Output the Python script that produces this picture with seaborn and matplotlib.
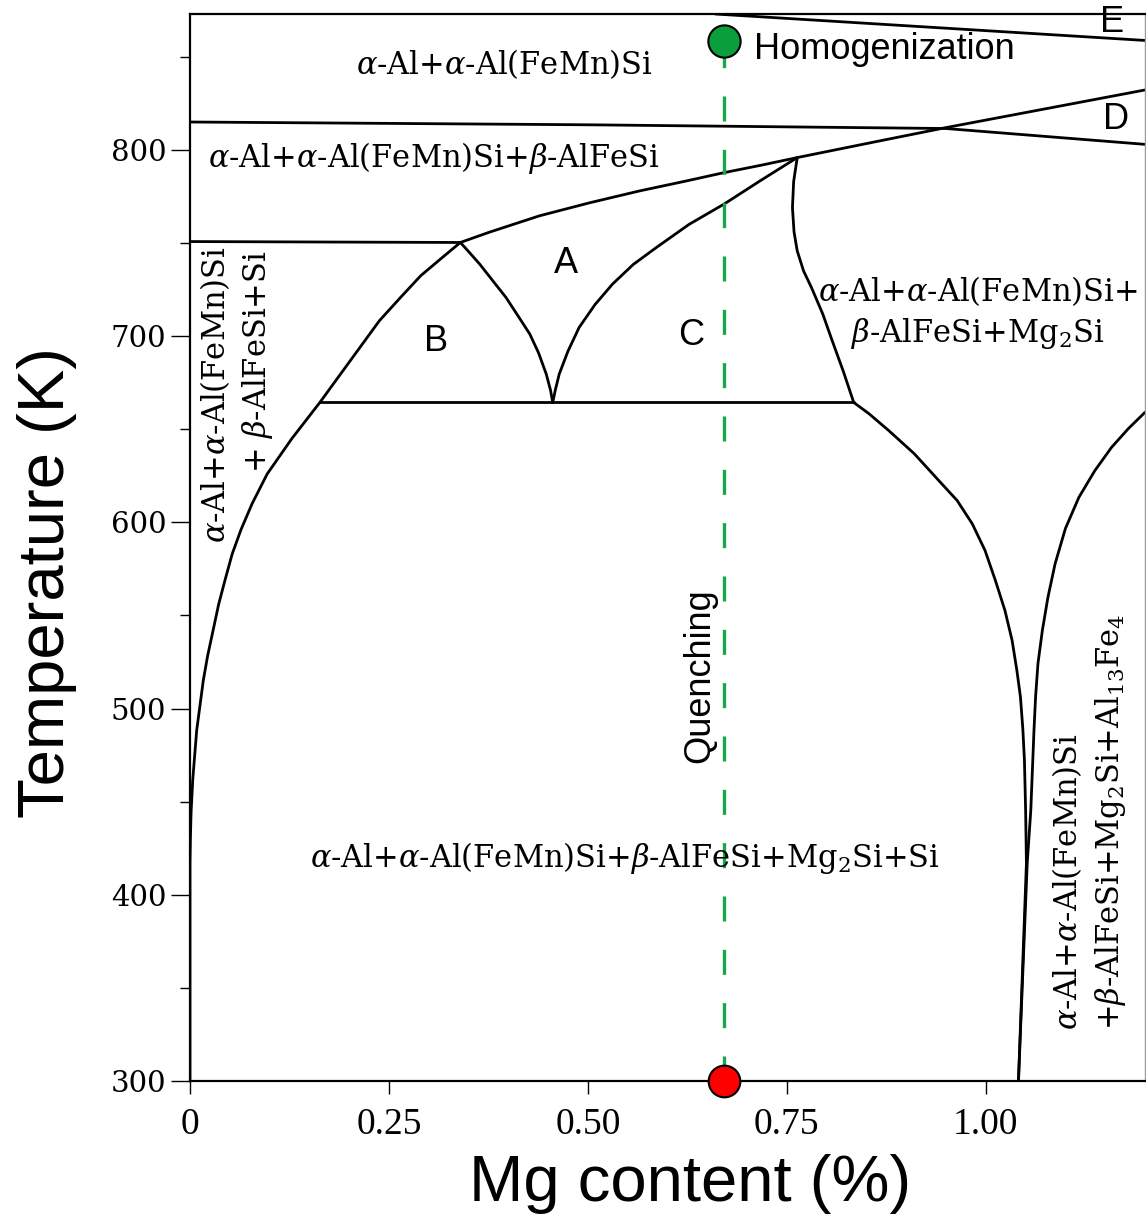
import matplotlib
matplotlib.use("Agg")
import matplotlib.pyplot as plt
import seaborn as sns

# phase boundaries (Mg content %, temperature K)
left_solvus_x = [0, 0, 0.0005, 0.0013, 0.0034, 0.0084, 0.0167, 0.022, 0.029, 0.036, 0.044, 0.053,
                 0.064, 0.078, 0.097, 0.128, 0.163, 0.200, 0.238, 0.265, 0.290, 0.315, 0.3397]
left_solvus_T = [300, 417, 430, 443.8, 461.5, 488.3, 515.1, 528, 542.0, 556, 569, 583,
                 596, 610, 626, 645, 664.3, 686, 708.3, 721, 732.5, 741.5, 750.3]

upper_iso_x = [0, 0.3397]
upper_iso_T = [750.8, 750.3]

eutectic_x = [0.163, 0.834]
eutectic_T = [664.4, 664.4]

b_a_x = [0.3397, 0.352, 0.364, 0.380, 0.397, 0.412, 0.427, 0.438, 0.4476, 0.453, 0.4558]
b_a_T = [750.3, 744.5, 738.7, 730.0, 720.8, 711.0, 701.1, 691.0, 679.7, 671.0, 664.4]

a_c_x = [0.4558, 0.459, 0.464, 0.475, 0.489, 0.509, 0.531, 0.557, 0.586, 0.627, 0.671, 0.716, 0.763]
a_c_T = [664.4, 671.0, 679.7, 692.0, 704.7, 717.0, 728.0, 738.5, 747.6, 760.0, 770.9, 783.3, 795.9]

beta_x = [0.3397, 0.376, 0.439, 0.502, 0.565, 0.620, 0.671, 0.720, 0.763, 0.866, 0.950, 1.080, 1.2]
beta_T = [750.3, 755.8, 764.6, 771.6, 778.0, 783.0, 787.8, 792.0, 795.9, 804.8, 812.0, 822.5, 832.2]

mg2si_x = [0.763, 0.7585, 0.757, 0.759, 0.763, 0.771, 0.781, 0.795, 0.807, 0.821, 0.834]
mg2si_T = [795.9, 783.0, 769.0, 756.0, 745.8, 735.0, 726.0, 712.0, 697.5, 681.0, 664.4]

low_left_x = [0.834, 0.853, 0.878, 0.910, 0.941, 0.964, 0.983, 0.999, 1.012, 1.024, 1.033,
              1.039, 1.0435, 1.0465, 1.0485, 1.050, 1.051, 1.041]
low_left_T = [664.4, 658.4, 649.3, 636.9, 622.4, 611.7, 599.2, 584.9, 568.8, 552.7, 536.6,
              520.5, 506.2, 489.0, 472.2, 445.4, 417, 300]

low_right_x = [1.2, 1.179, 1.158, 1.137, 1.117, 1.100, 1.087, 1.078, 1.071, 1.0655, 1.0625,
               1.0605, 1.059, 1.0565, 1.052, 1.041]
low_right_T = [659.1, 650.3, 640.3, 627.8, 613.5, 596.7, 577.7, 559.7, 541.9, 524.2, 506.2,
               488.3, 472.2, 445.4, 417, 300]

solvus_815_x = [0, 0.5, 0.95, 1.2]
solvus_815_T = [815, 813.5, 811.5, 803]

e_line_x = [0.66, 1.2]
e_line_T = [873, 858.8]

# heat treatment path
route_x = [0.671, 0.671]
route_T = [300, 858.5]
homog_point = (0.671, 858.5)
quench_point = (0.671, 300)

sns.set_theme(style="ticks")
plt.rcParams["mathtext.fontset"] = "dejavuserif"
for key in ["text.color", "axes.labelcolor", "xtick.color", "ytick.color"]:
    plt.rcParams[key] = "black"

fig = plt.figure(figsize=(11.46, 12.26), dpi=100)
ax = fig.add_axes([190 / 1146, 145 / 1226, 955 / 1146, 1067 / 1226])

boundaries = [
    (left_solvus_x, left_solvus_T), (upper_iso_x, upper_iso_T), (eutectic_x, eutectic_T),
    (b_a_x, b_a_T), (a_c_x, a_c_T), (beta_x, beta_T), (mg2si_x, mg2si_T),
    (low_left_x, low_left_T), (low_right_x, low_right_T),
    (solvus_815_x, solvus_815_T), (e_line_x, e_line_T),
]
for bx, bt in boundaries:
    sns.lineplot(x=bx, y=bt, ax=ax, color="black", linewidth=2.0,
                 sort=False, estimator=None, solid_joinstyle="round")

sns.lineplot(x=route_x, y=route_T, ax=ax, color="#14a84a", linewidth=2.4,
             sort=False, estimator=None, linestyle=(0, (7.5, 8.5)))
sns.scatterplot(x=[homog_point[0]], y=[homog_point[1]], ax=ax, s=540, color="#0a9e3c",
                edgecolor="black", linewidth=1.5, zorder=6, clip_on=False)
sns.scatterplot(x=[quench_point[0]], y=[quench_point[1]], ax=ax, s=520, color="#ff0000",
                edgecolor="black", linewidth=1.5, zorder=6, clip_on=False)

ax.set_xlim(0, 1.2)
ax.set_ylim(300, 873)
ax.set_xticks([0, 0.25, 0.5, 0.75, 1.0])
ax.set_xticklabels(["0", "0.25", "0.50", "0.75", "1.00"], family="Liberation Serif", fontsize=27)
ax.set_yticks([300, 400, 500, 600, 700, 800])
ax.set_yticks([350, 450, 550, 650, 750, 850], minor=True)
ax.set_yticklabels(["300", "400", "500", "600", "700", "800"], family="DejaVu Serif", fontsize=21)
ax.tick_params(axis="y", which="major", length=14, width=1, pad=3, color="black")
ax.tick_params(axis="y", which="minor", length=7, width=1, color="black", left=True)
ax.tick_params(axis="x", which="major", length=9, width=1, pad=10, color="black")

for side in ["left", "bottom", "top"]:
    ax.spines[side].set_color("black")
    ax.spines[side].set_linewidth(1.6)
ax.spines["right"].set_color("#999999")
ax.spines["right"].set_linewidth(1.0)

ax.set_xlabel("Mg content (%)", family="Liberation Sans", fontsize=47)
ax.set_ylabel("Temperature (K)", family="Liberation Sans", fontsize=47)
ax.xaxis.set_label_coords(0.524, -0.068)
ax.yaxis.set_label_coords(-0.118, 0.467)

serif = dict(family="DejaVu Serif", fontsize=22)
sans = dict(family="Liberation Sans", fontsize=26)

ax.text(0.395, 846, r"$\alpha$-Al+$\alpha$-Al(FeMn)Si", ha="center", va="center", **serif)
ax.text(0.307, 795.7, r"$\alpha$-Al+$\alpha$-Al(FeMn)Si+$\beta$-AlFeSi", ha="center", va="center", **serif)
ax.text(0.99, 724.4, r"$\alpha$-Al+$\alpha$-Al(FeMn)Si+", ha="center", va="center", **serif)
ax.text(0.99, 701.3, r"$\beta$-AlFeSi+Mg$_2$Si", ha="center", va="center", **serif)
ax.text(0.546, 419.6, r"$\alpha$-Al+$\alpha$-Al(FeMn)Si+$\beta$-AlFeSi+Mg$_2$Si+Si",
        ha="center", va="center", **serif)
ax.text(0.0314, 748.5, r"$\alpha$-Al+$\alpha$-Al(FeMn)Si", rotation=90, rotation_mode="anchor",
        ha="right", va="center", **serif)
ax.text(0.0853, 745.8, r"+ $\beta$-AlFeSi+Si", rotation=90, rotation_mode="anchor",
        ha="right", va="center", **serif)
ax.text(1.1016, 327.4, r"$\alpha$-Al+$\alpha$-Al(FeMn)Si", rotation=90, rotation_mode="anchor",
        ha="left", va="center", **serif)
ax.text(1.157, 327.4, r"+$\beta$-AlFeSi+Mg$_2$Si+Al$_{13}$Fe$_4$", rotation=90,
        rotation_mode="anchor", ha="left", va="center", **serif)

ax.text(0.472, 738.8, "A", ha="center", va="center", **sans)
ax.text(0.309, 697.0, "B", ha="center", va="center", **sans)
ax.text(0.630, 700.2, "C", ha="center", va="center", **sans)
ax.text(1.164, 816.6, "D", ha="center", va="center", **sans)
ax.text(1.158, 868.5, "E", ha="center", va="center", **sans)
ax.text(0.709, 854.2, "Homogenization", ha="left", va="center", **sans)
ax.text(0.640, 517.8, "Quenching", rotation=90, ha="center", va="center", **sans)

fig.savefig("out.png", dpi=100)
